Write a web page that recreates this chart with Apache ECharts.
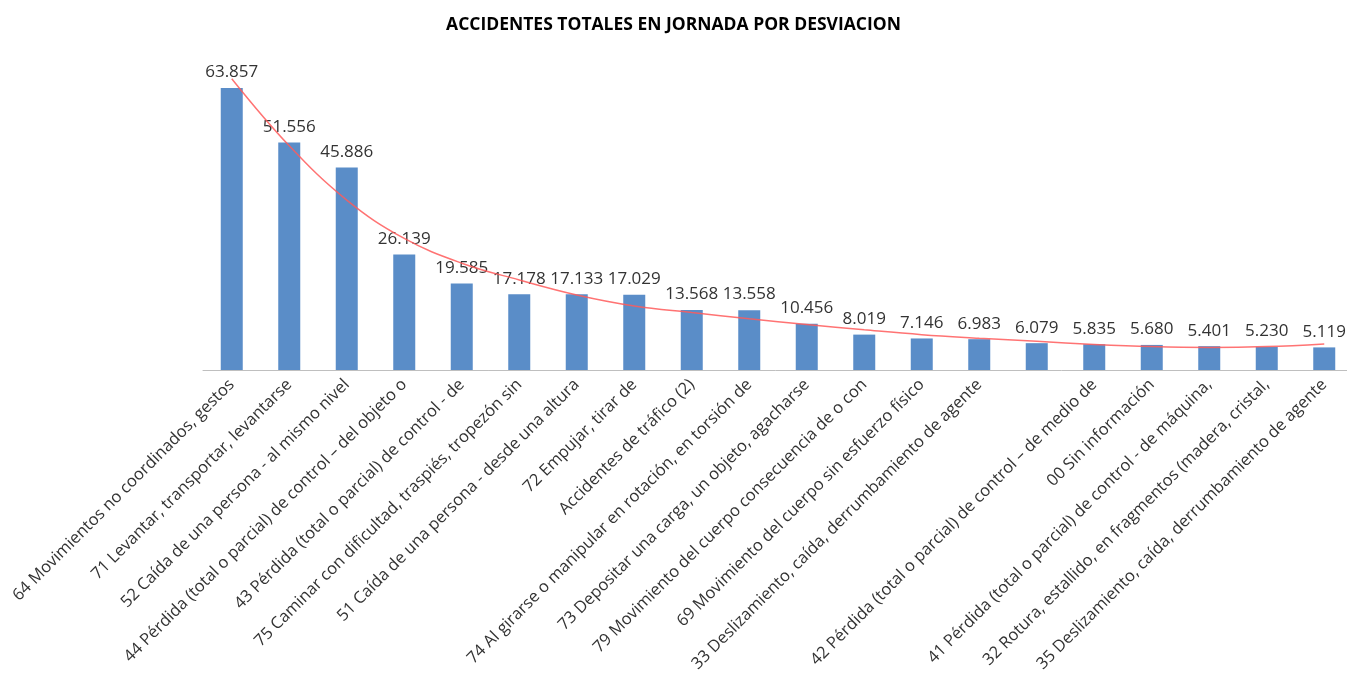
<!DOCTYPE html>
<html>
<head>
<meta charset="utf-8">
<script src="https://cdn.jsdelivr.net/npm/echarts@6/dist/echarts.min.js"></script>
<style>html,body{margin:0;padding:0;background:#fff}#c{width:1347px;height:684px}</style>
</head>
<body>
<div id="c"></div>
<script>
const titleText = 'ACCIDENTES TOTALES EN JORNADA POR DESVIACION';
const categories = [
  '64 Movimientos no coordinados, gestos',
  '71 Levantar, transportar, levantarse',
  '52 Caída de una persona - al mismo nivel',
  '44 Pérdida (total o parcial) de control – del objeto o',
  '43 Pérdida (total o parcial) de control - de',
  '75 Caminar con dificultad, traspiés, tropezón sin',
  '51 Caída de una persona - desde una altura',
  '72 Empujar, tirar de',
  'Accidentes de tráfico (2)',
  '74 Al girarse o manipular en rotación, en torsión de',
  '73 Depositar una carga, un objeto, agacharse',
  '79 Movimiento del cuerpo consecuencia de o con',
  '69 Movimiento del cuerpo sin esfuerzo físico',
  '33 Deslizamiento, caída, derrumbamiento de agente',
  '',
  '42 Pérdida (total o parcial) de control – de medio de',
  '00 Sin información',
  '41 Pérdida (total o parcial) de control - de máquina,',
  '32 Rotura, estallido, en fragmentos (madera, cristal,',
  '35 Deslizamiento, caída, derrumbamiento de agente'
];
const accidents = [63857, 51556, 45886, 26139, 19585, 17178, 17133, 17029, 13568, 13558,
                   10456, 8019, 7146, 6983, 6079, 5835, 5680, 5401, 5230, 5119];
// trend line (approximate values at each category)
const trend = [66000, 50800, 38500, 29800, 24200, 20400, 17000, 14500, 13000, 11600,
               10300, 9100, 8000, 7200, 6500, 5800, 5300, 5100, 5300, 5900];

function fmt(v){ return String(v).replace(/\B(?=(\d{3})+(?!\d))/g, '.'); }

const chart = echarts.init(document.getElementById('c'), null, {renderer:'canvas'});
chart.setOption({
  animation:false,
  backgroundColor:'#fff',
  title:{
    text:titleText, left:'center', top:11,
    textStyle:{fontFamily:'Open Sans', fontSize:17.5, fontWeight:'bold', color:'#000'}
  },
  grid:{left:203, top:61, width:1150, height:309, containLabel:false, outerBoundsMode:'none'},
  xAxis:{
    type:'category', data:categories,
    axisLine:{lineStyle:{color:'#bfbfbf', width:1}},
    axisTick:{show:false},
    axisLabel:{interval:0, rotate:45, margin:12, color:'#333',
      fontFamily:'Open Sans', fontSize:16.5}
  },
  yAxis:{type:'value', min:0, max:70000, show:false, splitLine:{show:false}},
  series:[
    {type:'bar', data:accidents, barWidth:22,
     itemStyle:{color:'#5a8dc8'},
     label:{show:true, position:'top', distance:7, formatter:p=>fmt(p.value),
       fontFamily:'Open Sans', fontSize:17, color:'#333'}},
    {type:'line', data:trend, smooth:0.4, symbol:'none', z:5,
     lineStyle:{color:'rgba(255,90,90,0.85)', width:1.5}}
  ]
});
</script>
</body>
</html>
